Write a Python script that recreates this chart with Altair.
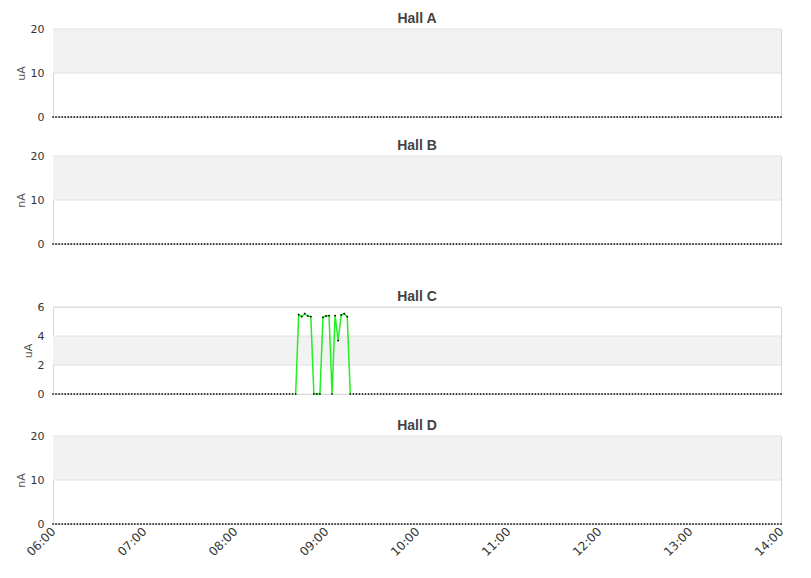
import altair as alt
import pandas as pd

halls = ["Hall A", "Hall B", "Hall C", "Hall D"]
units = ["uA", "nA", "uA", "nA"]
y_max = [20, 20, 6, 20]
y_ticks = [[0, 10, 20], [0, 10, 20], [0, 2, 4, 6], [0, 10, 20]]
band_lo = [10, 10, 2, 10]
band_hi = [20, 20, 4, 20]
heights = [88, 88, 87, 88]

day = "2024-01-01"
x_start = "06:00"
x_end = "14:00"
x_tick_labels = ["06:00", "07:00", "08:00", "09:00", "10:00", "11:00", "12:00", "13:00", "14:00"]
sample_minutes = 2  # reading interval of the zero-valued samples

hallc_times = ["08:40", "08:42", "08:44", "08:46", "08:48", "08:50", "08:52",
               "08:54", "08:56", "08:58", "09:00", "09:02", "09:04", "09:06",
               "09:08", "09:10", "09:12", "09:14", "09:16"]
hallc_values = [0, 5.47, 5.33, 5.54, 5.38, 5.33, 0, 0, 0, 5.29, 5.38, 5.40,
                0, 5.40, 3.68, 5.45, 5.54, 5.33, 0]

times = pd.date_range(f"{day} {x_start}", f"{day} {x_end}", freq=f"{sample_minutes}min")
time_str = [t.strftime("%Y-%m-%dT%H:%M") for t in times]

FONT = "DejaVu Sans"


def panel(i, show_x):
    vals = {t: 0.0 for t in time_str}
    line_df = None
    if halls[i] == "Hall C":
        for t, v in zip(hallc_times, hallc_values):
            vals[f"{day}T{t}"] = v
        line_df = pd.DataFrame({"t": [f"{day}T{t}" for t in hallc_times], "v": hallc_values})
    df = pd.DataFrame({"t": list(vals.keys()), "v": list(vals.values())})

    xscale = alt.Scale(domain=[f"{day}T{x_start}", f"{day}T{x_end}"], nice=False)
    if show_x:
        xaxis = alt.Axis(format="%H:%M",
                         values=[f"{day}T{h}" for h in x_tick_labels],
                         labelAngle=-45, labelAlign="right", labelBaseline="middle",
                         labelPadding=5, ticks=False, domain=False, grid=False,
                         title=None, labelFont=FONT, labelFontSize=12,
                         labelColor="#333333", labelOverlap=False)
    else:
        xaxis = None
    yscale = alt.Scale(domain=[0, y_max[i]], nice=False, zero=True)
    yaxis = alt.Axis(values=y_ticks[i], title=units[i], grid=False, ticks=False,
                     domain=False, labelPadding=9, labelFont=FONT, labelFontSize=11,
                     labelColor="#333333", titleFont=FONT, titleFontSize=11,
                     titleFontWeight="normal", titleColor="#555555",
                     titlePadding=4, labelOverlap=False)

    band = alt.Chart(pd.DataFrame({"y0": [band_lo[i]], "y1": [band_hi[i]]})).mark_rect(
        color="#f2f2f2").encode(
        x=alt.value(0), x2=alt.value(728),
        y=alt.Y("y0:Q", scale=yscale, axis=yaxis), y2="y1:Q")
    grid = alt.Chart(pd.DataFrame({"g": y_ticks[i]})).mark_rule(
        color="#e2e2e2", strokeWidth=1).encode(
        x=alt.value(0), x2=alt.value(728),
        y=alt.Y("g:Q", scale=yscale, axis=yaxis))
    layers = [band, grid]
    if line_df is not None:
        line = alt.Chart(line_df).mark_line(color="#22f022", strokeWidth=1.5).encode(
            x=alt.X("t:T", scale=xscale, axis=xaxis),
            y=alt.Y("v:Q", scale=yscale, axis=yaxis))
        layers.append(line)
    pts = alt.Chart(df).mark_point(shape="diamond", filled=True, color="#000000",
                                   size=5, opacity=1).encode(
        x=alt.X("t:T", scale=xscale, axis=xaxis),
        y=alt.Y("v:Q", scale=yscale, axis=yaxis))
    layers.append(pts)
    return alt.layer(*layers).properties(
        width=728, height=heights[i],
        title=alt.TitleParams(halls[i], fontSize=14, fontWeight="bold", color="#444444",
                              font="Liberation Sans", offset=-3, anchor="middle",
                              frame="group"))


top = alt.vconcat(panel(0, False), panel(1, False), spacing=15)
bottom = alt.vconcat(panel(2, False), panel(3, True), spacing=18)
chart = alt.vconcat(top, bottom, spacing=39).properties(
    padding={"left": 6, "top": 3, "right": 5, "bottom": 5}
).configure_view(stroke="#d6d6d6", strokeWidth=1)

chart.save("out.html", embed_options={"renderer": "svg", "actions": False})
